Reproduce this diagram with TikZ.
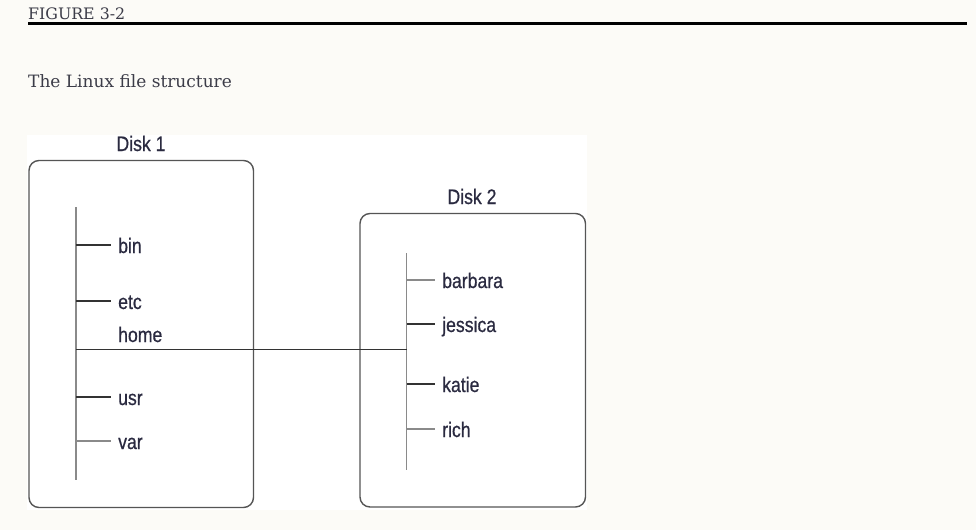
\documentclass[tikz,border=0pt]{standalone}
\usepackage{fontspec}
\setmainfont{DejaVu Serif}
\newfontfamily\narrowfont[FakeStretch=0.84,FakeBold=0.6]{Liberation Sans}
\definecolor{pagebg}{HTML}{FCFBF7}
\definecolor{titlecol}{HTML}{3C3C48}
\definecolor{textcol}{HTML}{2A2A40}
\definecolor{boxcol}{HTML}{555555}
\definecolor{darkline}{HTML}{333333}
\definecolor{grayline}{HTML}{8A8A8A}
\begin{document}
\begin{tikzpicture}[x=1pt,y=-1pt,
  caption/.style={font=\fontsize{17}{20}\selectfont, text=titlecol, anchor=base west, inner sep=0},
  disk/.style={draw=boxcol, line width=1.4pt, rounded corners=10pt},
  disklabel/.style={font=\narrowfont\fontsize{21}{24}\selectfont, text=textcol, anchor=base, inner sep=0},
  lbl/.style={font=\narrowfont\fontsize{21}{24}\selectfont, text=textcol, anchor=west, inner sep=0, text height=16pt, text depth=0pt},
  trunk/.style={draw=grayline, line width=1.5pt},
  darkbranch/.style={draw=darkline, line width=1.2pt, shorten >=7pt},
  graybranch/.style={draw=grayline, line width=1.4pt, shorten >=7pt}]
\useasboundingbox (0,0) rectangle (976,530);
\fill[pagebg] (0,0) rectangle (976,530);
\fill[white] (27,135) rectangle (587,510);
% header
\node[caption, font=\fontsize{15.8}{19}\selectfont] (fig) at (28,19) {FIGURE 3-2};
\draw[black, line width=3pt] (28,23.3) -- (967,23.3);
\node[caption] (cap) at (28,87) {The Linux file structure};
% disks
\draw[disk] (29,160.5) rectangle (253.5,507.5);
\node[disklabel] (d1) at (141,151) {Disk 1};
\draw[disk] (360,213.5) rectangle (585.5,507);
\node[disklabel] (d2) at (472,204) {Disk 2};
% trunks
\coordinate (t1top) at (76,207);
\coordinate (t1bot) at (76,480);
\draw[trunk] (t1top) -- (t1bot);
\coordinate (t2top) at (406.5,253);
\coordinate (t2bot) at (406.5,470);
\draw[trunk] (t2top) -- (t2bot);
% disk 1 labels
\node[lbl] (bin) at (118,245) {bin};
\node[lbl] (etc) at (118,301) {etc};
\node[lbl] (home) at (118,334) {home};
\node[lbl] (usr) at (118,397) {usr};
\node[lbl] (var) at (118,441) {var};
\draw[darkbranch] (76,245) -- (bin.west);
\draw[darkbranch] (76,301) -- (etc.west);
\draw[darkbranch] (76,397) -- (usr.west);
\draw[graybranch] (76,441) -- (var.west);
% home link
\coordinate (homeA) at (76,349.3);
\coordinate (homeB) at (406.5,349.3);
\draw[draw=darkline, line width=1.2pt] (homeA) -- (homeB);
% disk 2 labels
\node[lbl] (barbara) at (442,280) {barbara};
\node[lbl] (jessica) at (442,324) {jessica};
\node[lbl] (katie) at (442,384) {katie};
\node[lbl] (rich) at (442,429) {rich};
\draw[graybranch] (406.5,280) -- (barbara.west);
\draw[darkbranch] (406.5,324) -- (jessica.west);
\draw[darkbranch] (406.5,384) -- (katie.west);
\draw[graybranch] (406.5,429) -- (rich.west);
\end{tikzpicture}
\end{document}
